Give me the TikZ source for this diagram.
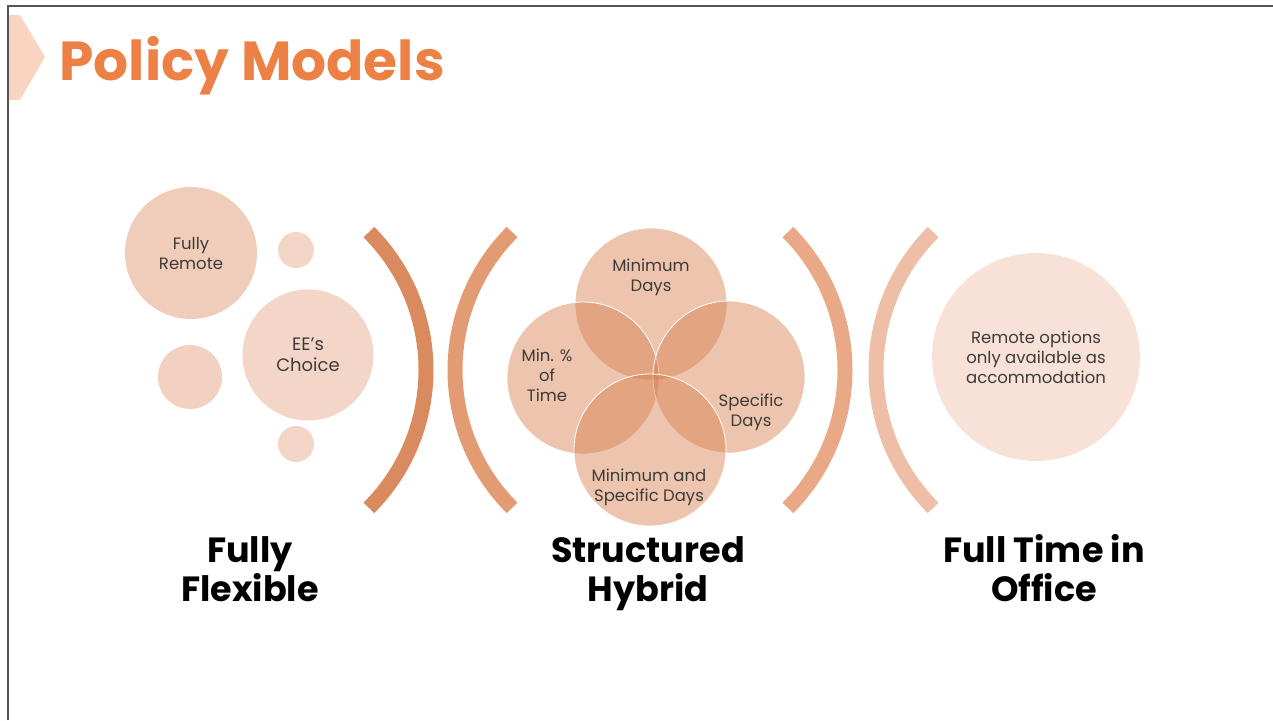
\documentclass[tikz,border=0pt]{standalone}
\usepackage{fontspec}
\setmainfont{Poppins}
\usepackage{xcolor}
\usepackage{tikz}
\usetikzlibrary{positioning,calc}

\definecolor{titleorange}{RGB}{237,128,68}
\definecolor{chevron}{RGB}{249,212,192}
\definecolor{framegray}{RGB}{85,85,85}
\definecolor{txtgray}{RGB}{62,58,56}
\definecolor{bubA}{RGB}{240,205,187}
\definecolor{bubB}{RGB}{243,214,200}
\definecolor{bubC}{RGB}{242,209,193}
\definecolor{bubD}{RGB}{248,226,216}
\definecolor{vennfill}{RGB}{214,122,73}
\definecolor{arcA}{RGB}{217,139,95}
\definecolor{arcB}{RGB}{227,155,116}
\definecolor{arcC}{RGB}{233,168,134}
\definecolor{arcD}{RGB}{239,190,166}

\tikzset{
    bubble/.style={circle, inner sep=0pt, minimum size=#1},
    venn/.style={circle, inner sep=0pt, minimum size=152pt, fill=vennfill, fill opacity=0.44, draw=white, line width=0.8pt},
    small/.style={font=\fontsize{16.5}{20}\selectfont, text=txtgray, align=center},
    model/.style={font=\fontsize{35}{39}\selectfont\bfseries, text=black, align=center, anchor=base},
    bracket/.style={line width=15pt}
}

\begin{document}
\begin{tikzpicture}[x=1pt,y=-1pt]
    \useasboundingbox (0,0) rectangle (1273,720);

    % Frame and title
    \draw[framegray, line width=1.6pt] (8,720) -- (8,6) -- (1273,6);
    \fill[chevron] (9,15) -- (20,15) -- (45,57) -- (20,100) -- (9,100) -- cycle;
    \node[anchor=base west, font=\fontsize{55}{58}\selectfont\bfseries, text=titleorange] (title) at (56,80) {Policy Models};

    % Fully Flexible
    \node[bubble=132pt, fill=bubA] (remote) at (191,253) {};
    \node[bubble=36pt, fill=bubB] (dotA) at (296,250) {};
    \node[bubble=64pt, fill=bubC] (dotB) at (190,377) {};
    \node[bubble=36pt, fill=bubB] (dotC) at (296,444) {};
    \node[bubble=131pt, fill=bubB] (choice) at (308,355) {};
    \node[small] at (remote) {Fully\\Remote};
    \node[small, font=\fontsize{18}{21}\selectfont] at (choice) {EE’s\\Choice};

    % Brackets
    \foreach \cx/\a/\b/\col in {231/45/-45/arcA, 650/135/225/arcB, 650/45/-45/arcC, 1071/135/225/arcD} {
        \draw[bracket, \col] (\cx,370) ++(\a:195pt) arc[start angle=\a, end angle=\b, radius=195pt];
    }

    % Structured Hybrid
    \foreach \name/\x/\y in {vtop/651/304, vleft/583/378, vright/729/377, vbottom/650/450} {
        \node[venn] (\name) at (\x,\y) {};
    }
    \node[small] (mindays) at (651,277) {Minimum\\Days};
    \node[small] (minpct) at (547,375) {Min. \%\\of\\Time};
    \node[small] (specdays) at (751,412) {Specific\\Days};
    \node[small] (both) at (649,487) {Minimum and\\Specific Days};

    % Full Time in Office
    \node[bubble=208pt, fill=bubD] (office) at (1036,357) {};
    \node[small] at (office) {Remote options\\only available as\\accommodation};

    % Model names
    \node[model] (flex) at (250,601) {Fully\\Flexible};
    \node[model] (hybrid) at (648,601) {Structured\\Hybrid};
    \node[model] (full) at (1044,601) {Full Time in\\Office};
\end{tikzpicture}
\end{document}
